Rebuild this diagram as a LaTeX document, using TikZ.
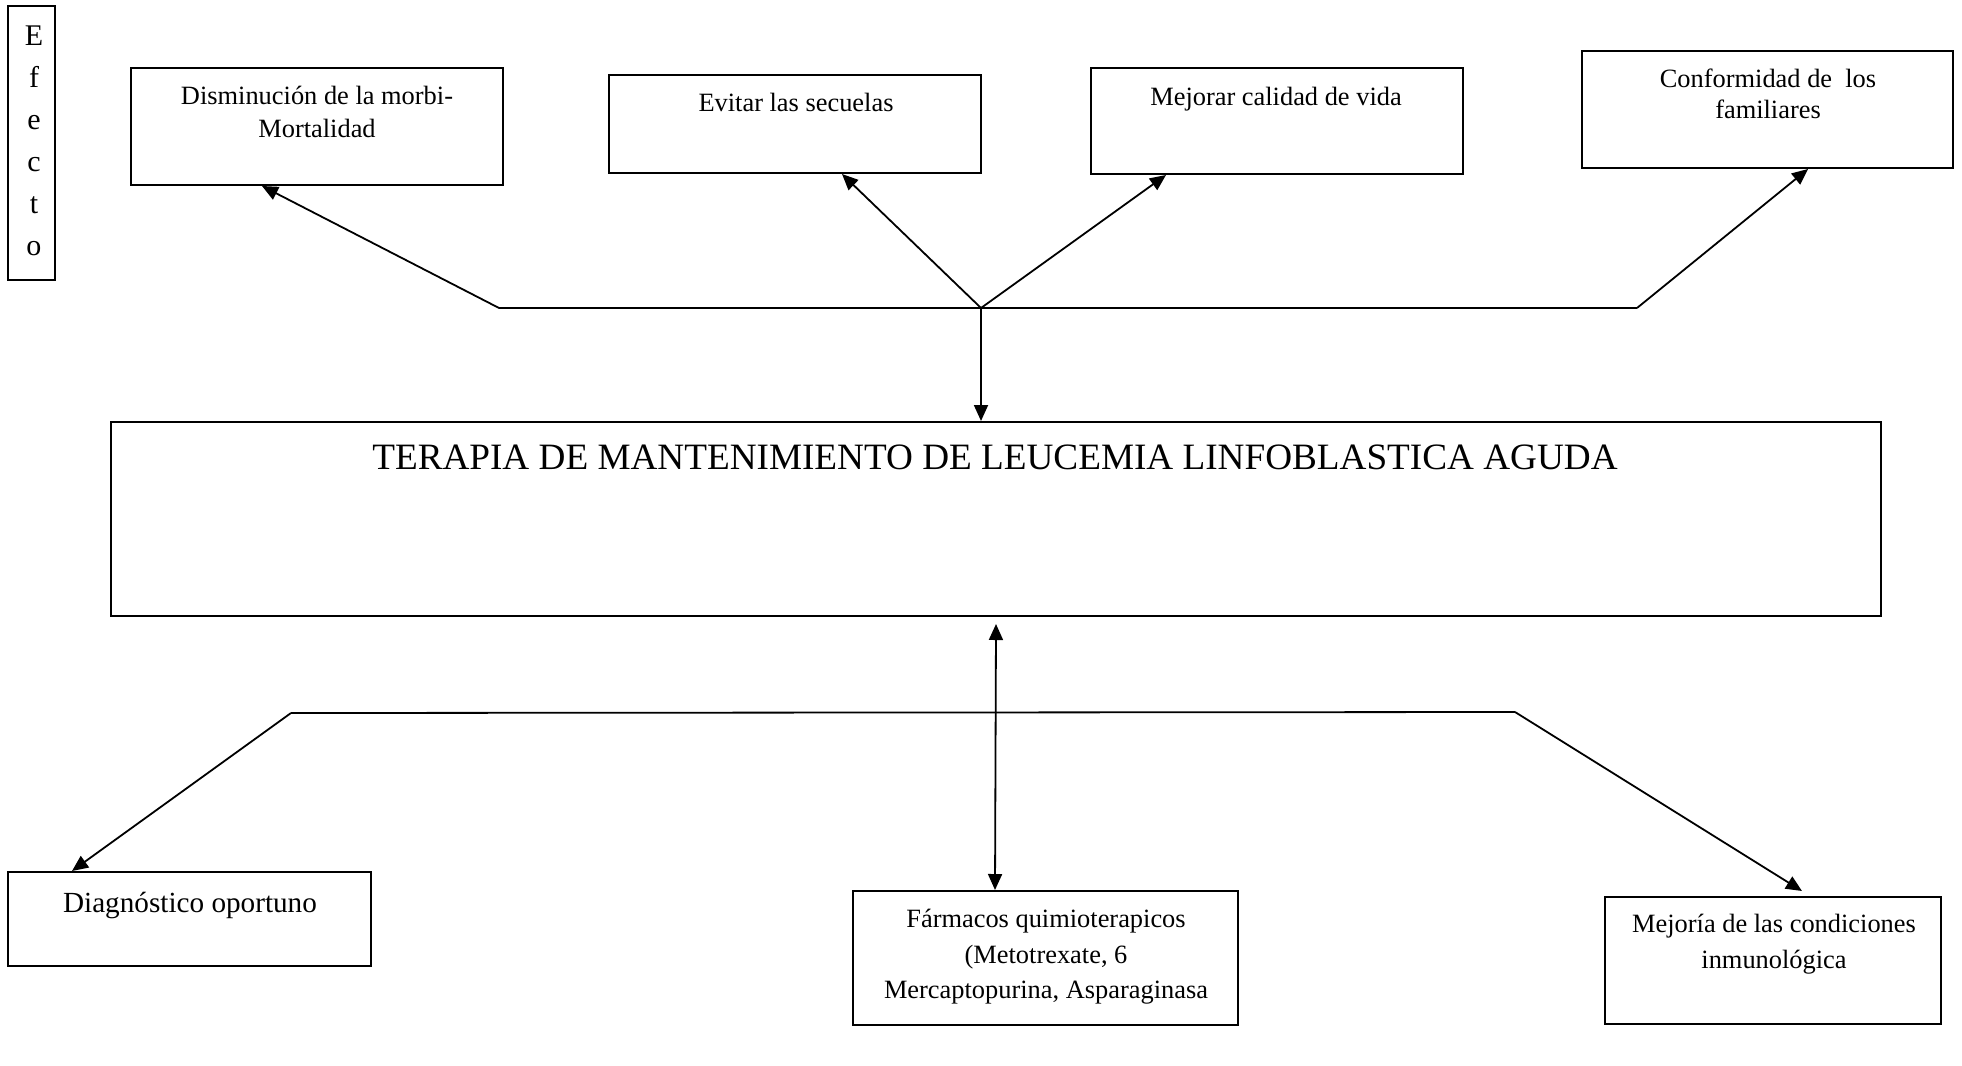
\documentclass[tikz,border=0pt]{standalone}
\usepackage{fontspec}
\setmainfont{Liberation Serif}
\usetikzlibrary{arrows.meta,calc,fit}
\begin{document}
\begin{tikzpicture}[x=0.5pt,y=-0.5pt,
  boxstyle/.style={draw,line width=1pt,inner sep=0pt},
  txt/.style={inner sep=0pt,align=center,anchor=north,font=\fontsize{13.2}{16.5}\selectfont},
  conn/.style={line width=0.9pt},
  arr/.style={conn,-{Triangle[length=8pt,width=7pt]}},
  darr/.style={conn,{Triangle[length=8pt,width=7pt]}-{Triangle[length=8pt,width=7pt]}}]
\useasboundingbox[fill=white] (0,0) rectangle (1962,1065);

% boxes
\node[boxstyle,fit={(8,6)(55,280)}] (efe) {};
\node[boxstyle,fit={(131,68)(503,185)}] (dism) {};
\node[boxstyle,fit={(609,75)(981,173)}] (evit) {};
\node[boxstyle,fit={(1091,68)(1463,174)}] (mejo) {};
\node[boxstyle,fit={(1582,51)(1953,168)}] (conf) {};
\node[boxstyle,fit={(111,422)(1881,616)}] (main) {};
\node[boxstyle,fit={(8,872)(371,966)}] (diag) {};
\node[boxstyle,fit={(853,891)(1238,1025)}] (farm) {};
\node[boxstyle,fit={(1605,897)(1941,1024)}] (mejr) {};

% texts
\node[txt,font=\fontsize{15}{21}\selectfont] (efeT) at (34,25) {E\\f\\e\\c\\t\\o};
\node[txt] (dismT) at (317,86) {Disminución de la morbi-\\Mortalidad};
\node[txt] (evitT) at (796,93) {Evitar las secuelas};
\node[txt] (mejoT) at (1276,87) {Mejorar calidad de vida};
\node[txt,font=\fontsize{13.2}{15.5}\selectfont] (confT) at (1768,69) {Conformidad de\ \ los\\familiares};
\node[txt,font=\fontsize{18.6}{22}\selectfont] (mainT) at (995,444) {TERAPIA DE MANTENIMIENTO DE LEUCEMIA LINFOBLASTICA AGUDA};
\node[txt,font=\fontsize{14.6}{18}\selectfont] (diagT) at (190,892) {Diagnóstico oportuno};
\node[txt,font=\fontsize{13.2}{17.75}\selectfont] (farmT) at (1046,909) {Fármacos quimioterapicos\\(Metotrexate, 6\\Mercaptopurina, Asparaginasa};
\node[txt,font=\fontsize{13.2}{18}\selectfont] (mejrT) at (1774,914) {Mejoría de las condiciones\\inmunológica};

% top connectors
\coordinate (tl) at (499,308);
\coordinate (tj) at (981,308);
\coordinate (tr) at (1637,308);
\draw[conn] (tl) -- (tr);
\draw[arr] (tl) -- ($(dism.south west)+(132,0)$);
\draw[arr] (tj) -- ($(evit.south west)+(234,0)$);
\draw[arr] (tj) -- ($(mejo.south west)+(76,0)$);
\draw[arr] (tr) -- ($(conf.south west)+(227,0)$);
\draw[arr] (tj) -- ($(main.north west)+(871,0)$);

% bottom connectors
\coordinate (bl) at (291,713);
\coordinate (br) at (1515,712);
\draw[conn] (bl) -- (br);
\draw[arr] (bl) -- ($(diag.north west)+(65,0)$);
\draw[arr] (br) -- ($(mejr.north west)+(198,-5)$);
\draw[darr] ($(main.south)+(0,7)$) -- ($(farm.north west)+(143,0)$);
\end{tikzpicture}
\end{document}
